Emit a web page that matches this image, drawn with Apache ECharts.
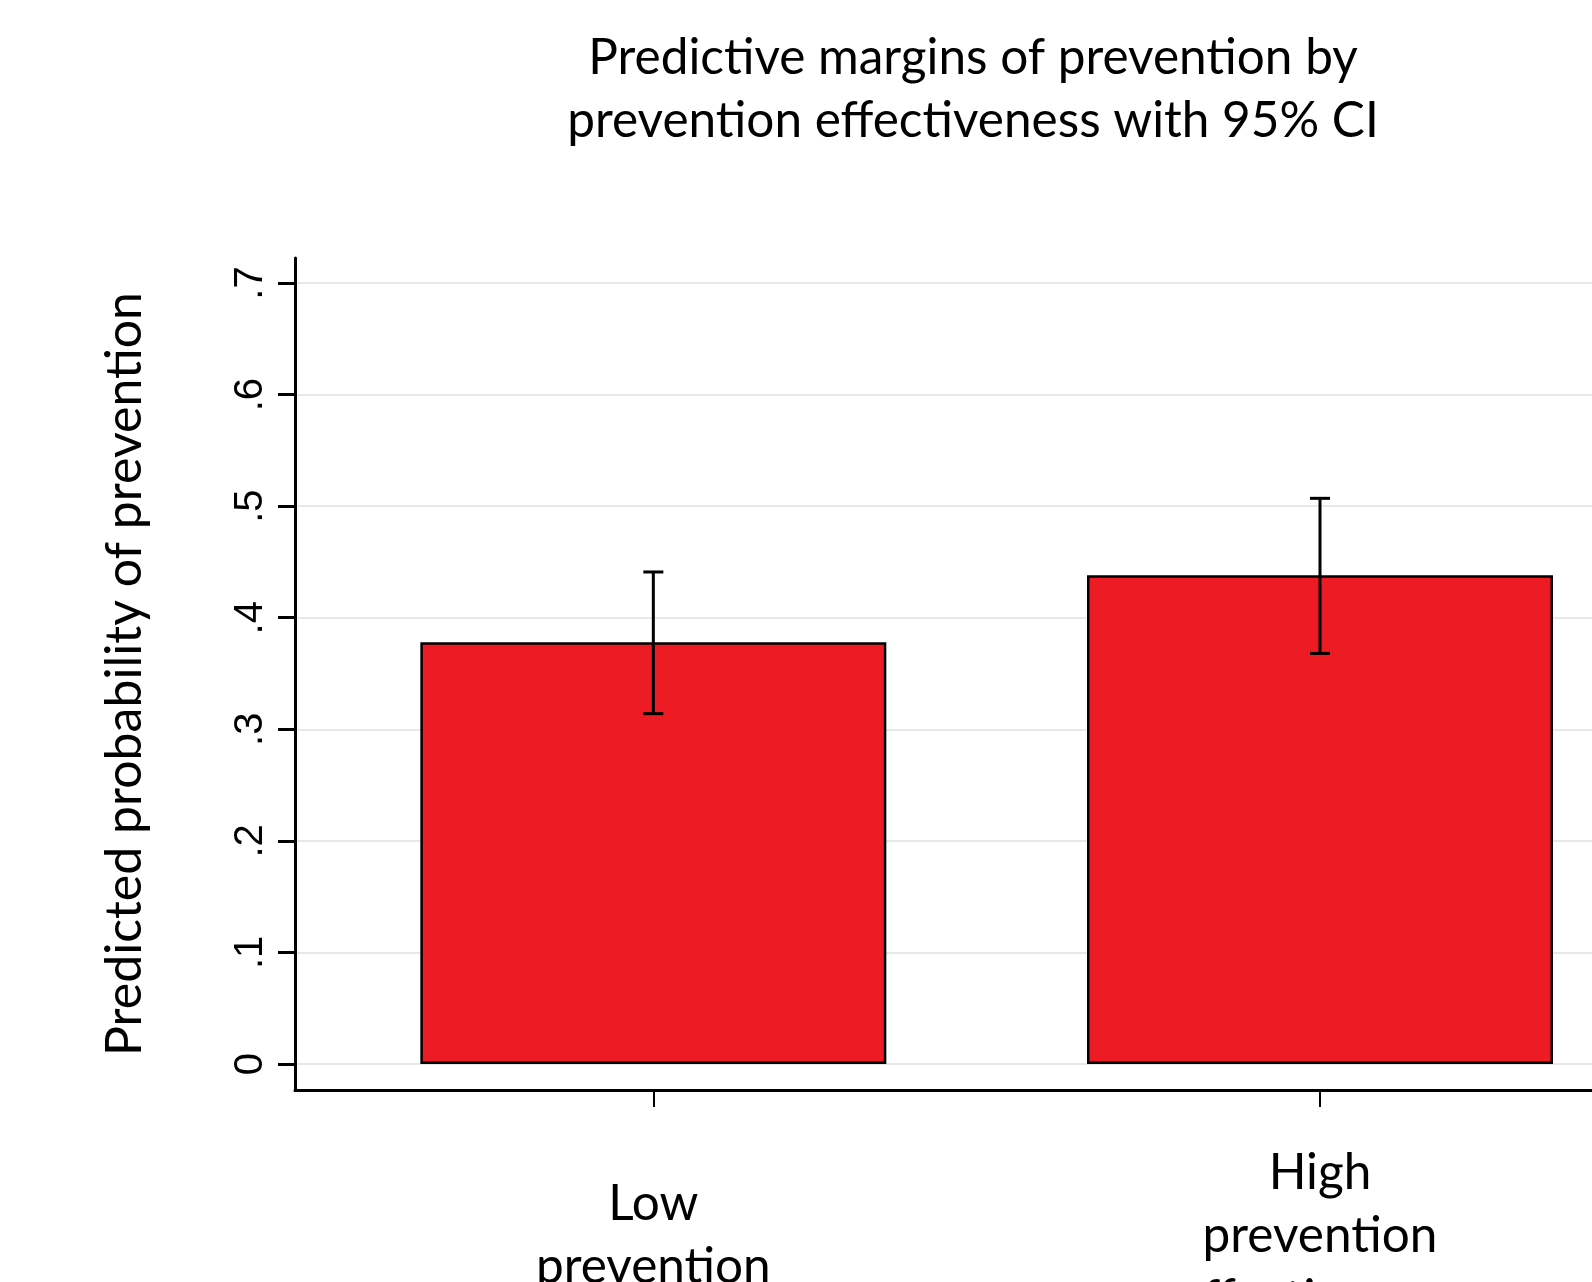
<!DOCTYPE html>
<html><head><meta charset="utf-8">
<script src="https://cdn.jsdelivr.net/npm/echarts@6/dist/echarts.min.js"></script>
<style>html,body{margin:0;padding:0;background:#fff}#c{width:1592px;height:1282px}</style>
</head><body><div id="c"></div>
<script>
const categories = ['Low\nprevention\neffectiveness', 'High\nprevention\neffectiveness'];
const margins = [0.378, 0.438];
const ciLower = [0.314, 0.368];
const ciUpper = [0.441, 0.507];
const yTicks = [0, 0.1, 0.2, 0.3, 0.4, 0.5, 0.6, 0.7];
const yTickLabels = ['0', '.1', '.2', '.3', '.4', '.5', '.6', '.7'];

const TXT = 'Lato';
const chart = echarts.init(document.getElementById('c'));
chart.setOption({
  backgroundColor: '#ffffff',
  animation: false,
  title: {
    text: 'Predictive margins of prevention by\nprevention effectiveness with 95% CI',
    left: 968, top: 22, textAlign: 'center',
    textStyle: { fontFamily: TXT, fontSize: 49.5, fontWeight: 'normal', color: '#000', lineHeight: 63 }
  },
  grid: { left: 295, right: 0, top: 258, bottom: 192, containLabel: false, outerBoundsMode: 'none' },
  xAxis: {
    type: 'value', min: -0.5375, max: 1.408,
    axisLine: { onZero: false, lineStyle: { color: '#000', width: 3 } },
    axisTick: { customValues: [0, 1], length: 17, lineStyle: { color: '#000', width: 2 } },
    axisLabel: {
      customValues: [0, 1], margin: 52,
      formatter: v => {
        const i = Math.round(v);
        const lines = categories[i].split('\n').map(s => '{t|' + s + '}');
        return (i === 0 ? '{gap| }\n' : '') + lines.join('\n');
      },
      rich: {
        gap: { fontSize: 4, lineHeight: 31 },
        t: { fontFamily: TXT, fontSize: 49.5, color: '#000', lineHeight: 63 }
      }
    },
    splitLine: { show: false }
  },
  yAxis: {
    type: 'value', min: -0.0233, max: 0.7224,
    name: 'Predicted probability of prevention', nameLocation: 'middle', nameGap: 145, nameRotate: 90,
    nameTextStyle: { fontFamily: TXT, fontSize: 50, color: '#000' },
    axisLine: { show: true, onZero: false, lineStyle: { color: '#000', width: 3 } },
    axisTick: { show: true, customValues: yTicks, length: 17, lineStyle: { color: '#000', width: 3 } },
    axisLabel: {
      customValues: yTicks, rotate: 90, margin: 24,
      fontFamily: 'Liberation Sans', fontSize: 40, color: '#000',
      formatter: v => yTickLabels[yTicks.findIndex(t => Math.abs(t - v) < 1e-6)]
    },
    splitLine: { show: true, lineStyle: { color: '#e8e8e8', width: 2 } }
  },
  series: [
    {
      type: 'bar', barWidth: 466,
      data: margins.map((m, i) => [i, m]),
      itemStyle: { color: '#ed1c24', borderColor: '#000', borderWidth: 2.5 }
    },
    {
      type: 'custom', z: 5,
      data: margins.map((m, i) => [i, ciLower[i], ciUpper[i]]),
      renderItem: (params, api) => {
        const x = api.value(0);
        const lo = api.coord([x, api.value(1)]);
        const hi = api.coord([x, api.value(2)]);
        const hw = 10;
        const st = { stroke: '#000', lineWidth: 3 };
        return { type: 'group', children: [
          { type: 'line', shape: { x1: lo[0], y1: lo[1], x2: hi[0], y2: hi[1] }, style: st },
          { type: 'line', shape: { x1: lo[0] - hw, y1: lo[1], x2: lo[0] + hw, y2: lo[1] }, style: st },
          { type: 'line', shape: { x1: hi[0] - hw, y1: hi[1], x2: hi[0] + hw, y2: hi[1] }, style: st }
        ]};
      }
    }
  ]
});
</script></body></html>
